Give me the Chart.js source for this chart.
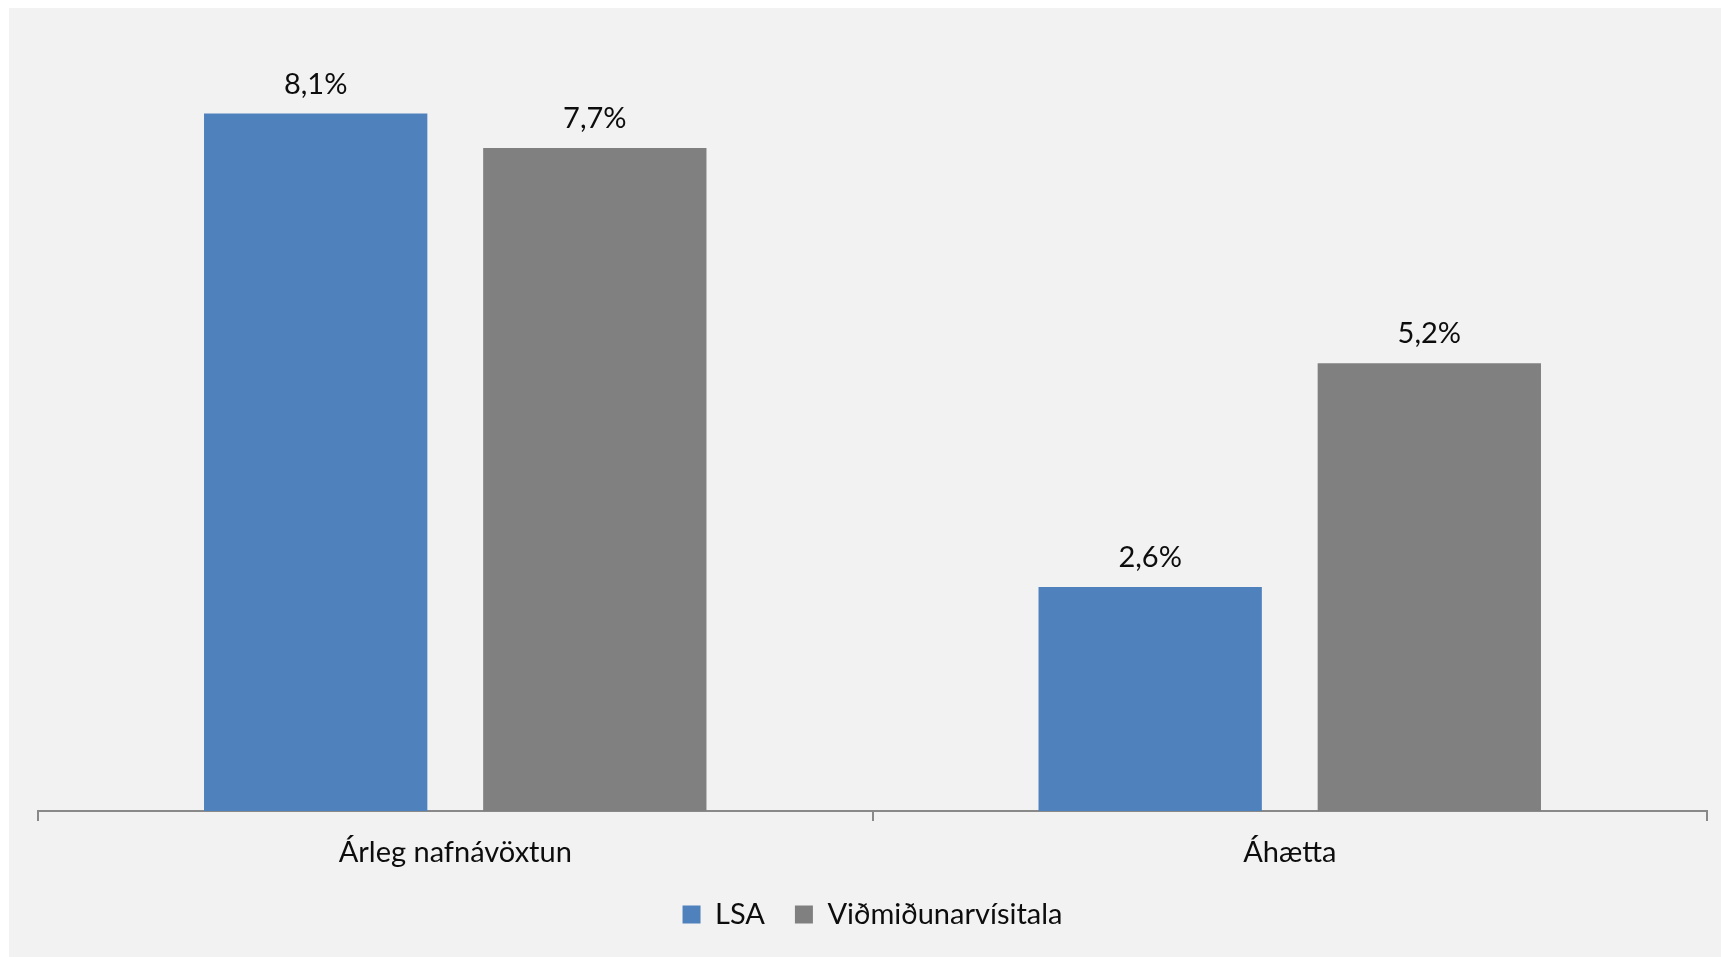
<!DOCTYPE html>
<html>
<head>
<meta charset="utf-8">
<script src="https://cdn.jsdelivr.net/npm/chart.js@4.4.0/dist/chart.umd.min.js"></script>
<style>
    html, body { margin: 0; padding: 0; background: #ffffff; }
    #wrap {
        position: absolute;
        left: 9px;
        top: 8px;
        width: 1712px;
        height: 949px;
        background: #f2f2f2;
    }
</style>
</head>
<body>
<div id="wrap">
    <canvas id="myChart" width="1712" height="949"></canvas>
</div>
<script>
const categories = ['Árleg nafnávöxtun', 'Áhætta'];
const lsaValues = [8.1, 2.6];
const benchmarkValues = [7.7, 5.2];
const seriesNames = ['LSA', 'Viðmiðunarvísitala'];

const FONT = 'Lato, "Open Sans", sans-serif';
const BOTTOM_PAD = 18;
const BELOW_AXIS = 146; // space under the plot area: x labels + legend + padding

// draws "8,1%" style labels above each bar
const barLabels = {
    id: 'barLabels',
    afterDatasetsDraw(chart)
    {
        const ctx = chart.ctx;
        ctx.save();
        ctx.font = '29px ' + FONT;
        ctx.fillStyle = '#0d0d0d';
        ctx.textAlign = 'center';
        ctx.textBaseline = 'alphabetic';
        chart.data.datasets.forEach((ds, i) =>
        {
            const meta = chart.getDatasetMeta(i);
            meta.data.forEach((bar, j) =>
            {
                const text = ds.data[j].toFixed(1).replace('.', ',') + '%';
                ctx.fillText(text, bar.x, bar.y - 20);
            });
        });
        ctx.restore();
    }
};

const chartContext = document.getElementById('myChart').getContext('2d');

new Chart(chartContext, {
    type: 'bar',
    data: {
        labels: categories,
        datasets: [
            {
                label: seriesNames[0],
                data: lsaValues,
                backgroundColor: '#4f81bd',
            },
            {
                label: seriesNames[1],
                data: benchmarkValues,
                backgroundColor: '#808080',
            },
        ]
    },
    options: {
        responsive: false,
        animation: false,
        devicePixelRatio: 1,
        datasets: {
            bar: {
                categoryPercentage: 0.669,
                barPercentage: 0.8,
            }
        },
        layout: {
            padding: {
                top: 28,
                bottom: BOTTOM_PAD,
                left: 29,
                right: 14
            },
        },
        plugins: {
            legend: {
                position: 'bottom',
                labels: {
                    boxWidth: 18,
                    boxHeight: 18,
                    padding: 30,
                    color: '#0d0d0d',
                    font: { family: FONT, size: 29 }
                }
            },
            tooltip: { enabled: false },
        },
        scales: {
            x: {
                afterFit(scale)
                {
                    const legend = scale.chart.legend;
                    scale.height = BELOW_AXIS - BOTTOM_PAD - (legend ? legend.height : 0);
                },
                grid: {
                    display: true,
                    drawOnChartArea: false,
                    offset: true,
                    tickLength: 10,
                    color: '#898989',
                    lineWidth: 2,
                },
                border: { color: '#898989', width: 2 },
                ticks: {
                    color: '#0d0d0d',
                    padding: 14,
                    font: { family: FONT, size: 29 }
                }
            },
            y: {
                display: false,
                min: 0,
                max: 9,
            }
        }
    },
    plugins: [barLabels]
});
</script>
</body>
</html>
